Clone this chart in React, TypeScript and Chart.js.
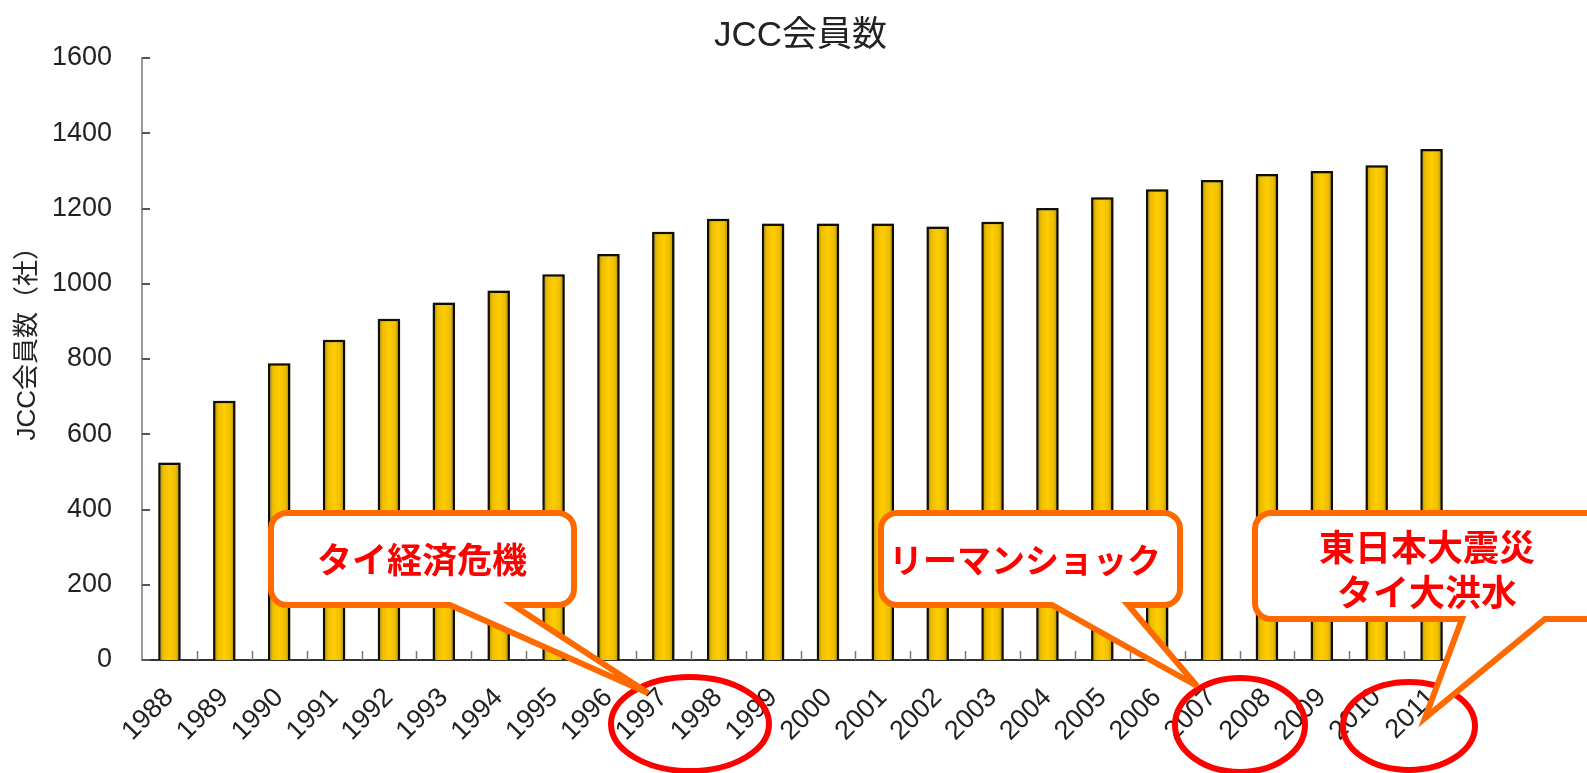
import React, { useEffect, useRef } from 'react';
import { Chart, registerables } from 'chart.js';

Chart.register(...registerables);

// ---- data ----
const YEARS = [
  '1988', '1989', '1990', '1991', '1992', '1993', '1994', '1995', '1996', '1997', '1998', '1999',
  '2000', '2001', '2002', '2003', '2004', '2005', '2006', '2007', '2008', '2009', '2010', '2011',
];
const MEMBERS = [
  525, 689, 789, 851, 907, 950, 982, 1025, 1079, 1138, 1173, 1160,
  1160, 1160, 1152, 1165, 1201, 1230, 1251, 1276, 1292, 1300, 1315, 1358,
];
const Y_MIN = 0;
const Y_MAX = 1600;
const Y_STEP = 200;
const TITLE = 'JCC会員数';
const Y_TITLE = '      JCC会員数（社）';
const NOTE_1 = ['タイ経済危機'];
const NOTE_2 = ['リーマンショック'];
const NOTE_3 = ['東日本大震災', 'タイ大洪水'];

// ---- style / overlay geometry ----
const FONT = "'Liberation Sans', 'Noto Sans CJK JP', Arial, sans-serif";
const CJK_FONT = "'Noto Sans CJK JP', 'Liberation Sans', sans-serif";
const BAR_PCT = 0.41;

const CALLOUTS = [
  { lines: NOTE_1, box: [271, 513, 574, 605], tail: [450, 513, 648, 693], text: [422, 560], size: 35, gap: 0 },
  { lines: NOTE_2, box: [881, 513, 1180, 605], tail: [1052, 1128, 1197, 686], text: [1025, 560], size: 34, gap: 0 },
  { lines: NOTE_3, box: [1255, 513, 1650, 619], tail: [1462, 1545, 1425, 718], text: [1427, 547], size: 36, gap: 45 },
];
const ELLIPSES = [
  [690, 724, 79, 47],
  [1240, 725, 65, 47],
  [1409, 726, 66, 44],
];

function drawCallout(ctx: CanvasRenderingContext2D, c: any) {
  const [x1, y1, x2, y2] = c.box;
  const [tl, tr, tx, ty] = c.tail;
  const r = 16;
  ctx.save();
  ctx.beginPath();
  ctx.moveTo(x1 + r, y1);
  ctx.lineTo(x2 - r, y1);
  ctx.arcTo(x2, y1, x2, y1 + r, r);
  ctx.lineTo(x2, y2 - r);
  ctx.arcTo(x2, y2, x2 - r, y2, r);
  ctx.lineTo(tr, y2);
  ctx.lineTo(tx, ty);
  ctx.lineTo(tl, y2);
  ctx.lineTo(x1 + r, y2);
  ctx.arcTo(x1, y2, x1, y2 - r, r);
  ctx.lineTo(x1, y1 + r);
  ctx.arcTo(x1, y1, x1 + r, y1, r);
  ctx.closePath();
  ctx.fillStyle = '#FFFFFF';
  ctx.fill();
  ctx.lineWidth = 6;
  ctx.lineJoin = 'miter';
  ctx.miterLimit = 4;
  ctx.strokeStyle = '#FF6A00';
  ctx.stroke();
  ctx.fillStyle = '#FF0000';
  ctx.font = `bold ${c.size}px ${CJK_FONT}`;
  ctx.textAlign = 'center';
  ctx.textBaseline = 'middle';
  c.lines.forEach((line: string, i: number) => {
    ctx.fillText(line, c.text[0], c.text[1] + i * c.gap);
  });
  ctx.restore();
}

const overlayPlugin = {
  id: 'overlay',
  beforeDatasetsDraw(chart: any) {
    const ctx = chart.ctx;
    ctx.save();
    ctx.shadowColor = 'rgba(0,0,0,0.45)';
    ctx.shadowBlur = 4;
    ctx.shadowOffsetX = 1;
    ctx.shadowOffsetY = 0;
  },
  afterDatasetsDraw(chart: any) {
    chart.ctx.restore();
  },
  afterDraw(chart: any) {
    const ctx = chart.ctx as CanvasRenderingContext2D;
    const xs = chart.scales.x;
    const ys = chart.scales.y;
    const area = chart.chartArea;
    ctx.save();
    // inward tick marks on y axis
    ctx.strokeStyle = '#555';
    ctx.lineWidth = 2;
    for (let v = Y_MIN; v <= Y_MAX; v += Y_STEP) {
      const py = Math.round(ys.getPixelForValue(v));
      ctx.beginPath();
      ctx.moveTo(area.left, py);
      ctx.lineTo(area.left + 8, py);
      ctx.stroke();
    }
    // upward tick marks between categories on x axis
    ctx.strokeStyle = '#777';
    ctx.lineWidth = 1.5;
    const step = xs.width / YEARS.length;
    for (let i = 1; i < YEARS.length; i++) {
      const px = Math.round(xs.getPixelForValue(i) - step / 2) + 0.5;
      ctx.beginPath();
      ctx.moveTo(px, area.bottom);
      ctx.lineTo(px, area.bottom - 9);
      ctx.stroke();
    }
    // red ellipses
    ctx.strokeStyle = '#FF0000';
    ctx.lineWidth = 6;
    ELLIPSES.forEach(([cx, cy, rx, ry]) => {
      ctx.beginPath();
      ctx.ellipse(cx, cy, rx, ry, 0, 0, Math.PI * 2);
      ctx.stroke();
    });
    ctx.restore();
    CALLOUTS.forEach((c) => drawCallout(ctx, c));
  },
};

export default function App() {
  const ref = useRef<HTMLCanvasElement | null>(null);

  useEffect(() => {
    if (!ref.current) return;
    const chart = new Chart(ref.current, {
      type: 'bar',
      data: {
        labels: YEARS,
        datasets: [
          {
            label: TITLE,
            data: MEMBERS,
            backgroundColor: (c: any) => {
              const ch = c.chart;
              const xs = ch.scales?.x;
              if (!xs || !ch.chartArea || c.dataIndex === undefined) return '#FFCC00';
              const cx = xs.getPixelForValue(c.dataIndex);
              const hw = (xs.width / YEARS.length) * BAR_PCT / 2;
              const g = ch.ctx.createLinearGradient(cx - hw, 0, cx + hw, 0);
              g.addColorStop(0, '#9C7A00');
              g.addColorStop(0.22, '#EDBE00');
              g.addColorStop(0.5, '#FFCC00');
              g.addColorStop(0.78, '#EDBE00');
              g.addColorStop(1, '#9C7A00');
              return g;
            },
            borderColor: '#141000',
            borderWidth: 2.5,
            barPercentage: BAR_PCT,
            categoryPercentage: 1,
          },
        ],
      },
      options: {
        responsive: true,
        maintainAspectRatio: false,
        animation: false,
        layout: { padding: { left: 0, right: 128, top: 0, bottom: 0 } },
        plugins: {
          legend: { display: false },
          tooltip: { enabled: false },
          title: {
            display: true,
            text: TITLE,
            fullSize: false,
            color: '#222',
            font: { family: FONT, size: 35, weight: 'normal' },
            padding: { top: 15, bottom: 1 },
          },
        },
        scales: {
          x: {
            grid: { display: false, drawTicks: false },
            border: { display: true, color: '#333', width: 2 },
            ticks: {
              autoSkip: false,
              minRotation: 45,
              maxRotation: 45,
              padding: 22,
              color: '#222',
              font: { family: FONT, size: 27 },
            },
            afterFit: (s: any) => {
              s.height = 113;
            },
          },
          y: {
            min: Y_MIN,
            max: Y_MAX,
            grid: { display: false, drawTicks: false },
            border: { display: true, color: '#999', width: 2 },
            ticks: {
              stepSize: Y_STEP,
              padding: 30,
              color: '#222',
              font: { family: FONT, size: 27 },
              callback: (v: any) => String(v),
            },
            title: {
              display: true,
              text: Y_TITLE,
              color: '#222',
              font: { family: FONT, size: 26 },
              padding: { top: 12, bottom: 0 },
            },
            afterFit: (s: any) => {
              s.width = 142;
            },
          },
        },
      },
      plugins: [overlayPlugin],
    });
    return () => chart.destroy();
  }, []);

  return (
    <div style={{ position: 'fixed', left: 0, top: 0, width: 1587, height: 773, background: '#fff' }}>
      <canvas ref={ref} />
    </div>
  );
}
